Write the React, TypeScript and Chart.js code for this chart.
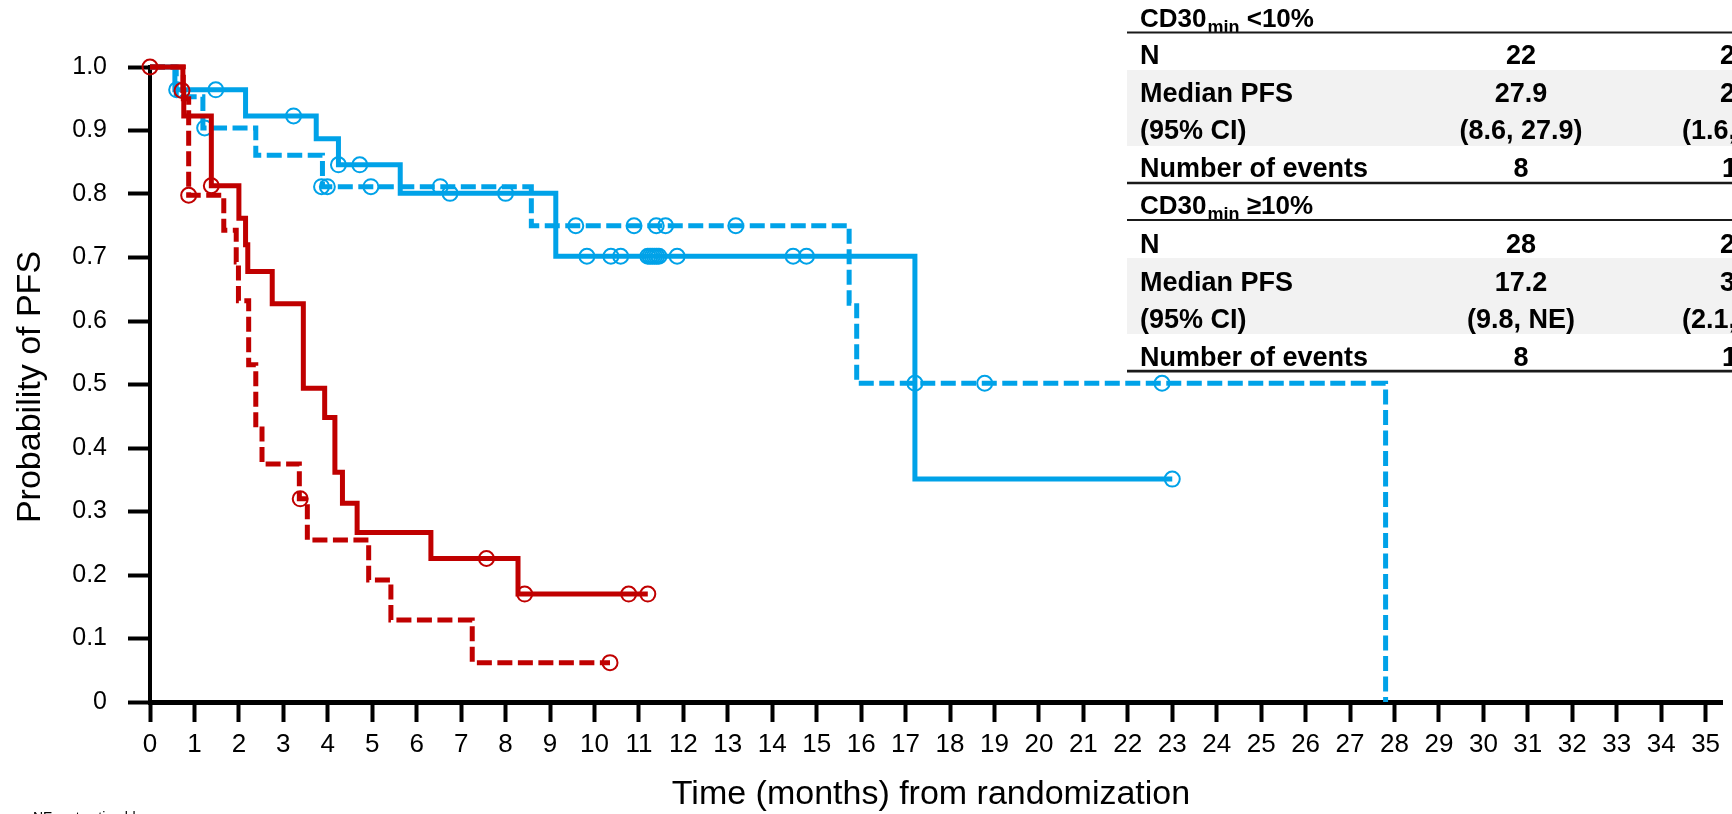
import React, { useEffect, useRef } from "react";
import { Chart, registerables } from "chart.js";

Chart.register(...registerables);

// ---------- axis ticks ----------
const xTicks = [0, 1, 2, 3, 4, 5, 6, 7, 8, 9, 10, 11, 12, 13, 14, 15, 16, 17, 18, 19, 20, 21, 22, 23, 24, 25, 26, 27, 28, 29, 30, 31, 32, 33, 34, 35];
const yTicks = [0, 0.1, 0.2, 0.3, 0.4, 0.5, 0.6, 0.7, 0.8, 0.9, 1.0];
const yTickLabels = ["0", "0.1", "0.2", "0.3", "0.4", "0.5", "0.6", "0.7", "0.8", "0.9", "1.0"];
const xAxisTitle = "Time (months) from randomization";
const yAxisTitle = "Probability of PFS";
const footnote = "NE, not estimable";

// ---------- blue arm, CD30min >=10% (solid) ----------
const blueSolidTimes = [0, 0.56, 2.15, 3.74, 4.24, 5.63, 9.13, 17.21, 23.0];
const blueSolidSurv = [1, 0.964, 0.923, 0.887, 0.846, 0.801, 0.702, 0.351, 0.351];
const blueSolidCensorTimes = [0.6, 1.48, 3.23, 4.24, 4.72, 6.75, 8.0, 9.83, 10.37, 10.59, 11.2, 11.25, 11.3, 11.35, 11.4, 11.45, 11.86, 14.47, 14.77, 23.0];
const blueSolidCensorSurv = [0.964, 0.964, 0.923, 0.846, 0.846, 0.801, 0.801, 0.702, 0.702, 0.702, 0.702, 0.702, 0.702, 0.702, 0.702, 0.702, 0.702, 0.702, 0.702, 0.351];

// ---------- blue arm, CD30min <10% (dashed) ----------
const blueDashedTimes = [0, 0.59, 1.19, 2.38, 3.88, 8.58, 15.73, 15.9, 27.8];
const blueDashedSurv = [1, 0.953, 0.904, 0.861, 0.8115, 0.75, 0.628, 0.502, 0];
const blueDashedCensorTimes = [1.23, 3.86, 3.99, 4.97, 6.53, 9.58, 10.89, 11.39, 11.6, 13.18, 17.21, 18.78, 22.77];
const blueDashedCensorSurv = [0.904, 0.8115, 0.8115, 0.8115, 0.8115, 0.75, 0.75, 0.75, 0.75, 0.75, 0.502, 0.502, 0.502];

// ---------- red arm, CD30min >=10% (solid) ----------
const redSolidTimes = [0, 0.74, 0.76, 1.38, 2.0, 2.15, 2.2, 2.75, 3.45, 3.93, 4.16, 4.33, 4.66, 6.32, 8.28, 11.2];
const redSolidSurv = [1, 0.963, 0.923, 0.813, 0.762, 0.72, 0.678, 0.627, 0.494, 0.448, 0.362, 0.313, 0.267, 0.226, 0.17, 0.17];
const redSolidCensorTimes = [0, 0.72, 1.38, 7.57, 8.43, 10.77, 11.2];
const redSolidCensorSurv = [1, 0.963, 0.813, 0.226, 0.17, 0.17, 0.17];

// ---------- red arm, CD30min <10% (dashed) ----------
const redDashedTimes = [0, 0.75, 0.87, 1.66, 1.94, 1.99, 2.22, 2.38, 2.52, 3.36, 3.54, 4.92, 5.42, 7.25, 10.35];
const redDashedSurv = [1, 0.95, 0.798, 0.743, 0.693, 0.632, 0.531, 0.43, 0.375, 0.32, 0.255, 0.192, 0.129, 0.062, 0.062];
const redDashedCensorTimes = [0.87, 3.38, 10.35];
const redDashedCensorSurv = [0.798, 0.32, 0.062];

// ---------- summary table ----------
const group1Header = ["CD30", "min", " <10%"];
const group2Header = ["CD30", "min", " \u226510%"];
const tableRowLabels = ["N", "Median PFS", "(95% CI)", "Number of events"];
const group1Col2 = ["22", "27.9", "(8.6, 27.9)", "8"];
const group1Col3 = ["2", "2", "(1.6,", "1"];
const group2Col2 = ["28", "17.2", "(9.8, NE)", "8"];
const group2Col3 = ["2", "3", "(2.1,", "1"];

const BLUE = "#00A2E8";
const RED = "#C00000";
const FAMILY = '"Liberation Sans", Arial, Helvetica, sans-serif';

const pts = (t: number[], s: number[]) => t.map((x, i) => ({ x, y: s[i] }));

function lineDs(label: string, t: number[], s: number[], color: string, dashed: boolean, order: number) {
  return {
    type: "line" as const,
    label,
    data: pts(t, s),
    borderColor: color,
    backgroundColor: color,
    borderWidth: 5,
    borderDash: dashed ? [15, 5.5] : [],
    borderCapStyle: "butt" as const,
    borderJoinStyle: "miter" as const,
    stepped: "before" as const,
    pointRadius: 0,
    fill: false,
    tension: 0,
    clip: false,
    order,
  };
}

function censorDs(label: string, t: number[], s: number[], color: string, order: number) {
  return {
    type: "scatter" as const,
    label,
    data: pts(t, s),
    showLine: false,
    pointStyle: "circle" as const,
    pointRadius: 7.5,
    pointBorderWidth: 2,
    pointBorderColor: color,
    borderColor: color,
    pointBackgroundColor: "rgba(0,0,0,0)",
    backgroundColor: "rgba(0,0,0,0)",
    clip: false,
    order,
  };
}

const decorPlugin = {
  id: "decor",
  afterDraw(chart: any) {
    const c: CanvasRenderingContext2D = chart.ctx;
    c.save();
    // axis titles
    c.fillStyle = "#000";
    c.font = `34px ${FAMILY}`;
    c.textAlign = "center";
    c.textBaseline = "alphabetic";
    c.fillText(xAxisTitle, 931, 804);
    c.save();
    c.translate(40, 387);
    c.rotate(-Math.PI / 2);
    c.fillText(yAxisTitle, 0, 0);
    c.restore();
    // footnote
    c.font = `14px ${FAMILY}`;
    c.textAlign = "left";
    c.fillText(footnote, 33, 822);

    // table
    const L = 1127;
    const R = 1732;
    c.fillStyle = "#fff";
    c.fillRect(1118, 0, R - 1118, 374);
    c.fillStyle = "#f2f2f2";
    c.fillRect(L, 70, R - L, 76);
    c.fillRect(L, 258, R - L, 76);

    const drawHeader = (h: string[], base: number) => {
      c.fillStyle = "#000";
      c.textAlign = "left";
      c.font = `bold 26px ${FAMILY}`;
      let x = 1140;
      c.fillText(h[0], x, base);
      x += c.measureText(h[0]).width + 1;
      c.font = `bold 18px ${FAMILY}`;
      c.fillText(h[1], x, base + 6);
      x += c.measureText(h[1]).width;
      c.font = `bold 26px ${FAMILY}`;
      c.fillText(h[2], x, base);
    };
    const drawRows = (col2: string[], col3: string[], bases: number[]) => {
      c.fillStyle = "#000";
      c.font = `bold 27px ${FAMILY}`;
      bases.forEach((b, i) => {
        c.textAlign = "left";
        c.fillText(tableRowLabels[i], 1140, b);
        c.textAlign = "center";
        c.fillText(col2[i], 1521, b);
        c.textAlign = "left";
        c.fillText(col3[i], i === 2 ? 1682 : i === 3 ? 1722 : 1720, b);
      });
    };
    drawHeader(group1Header, 26.5);
    drawRows(group1Col2, group1Col3, [64, 101.5, 138.5, 176.5]);
    drawHeader(group2Header, 213.5);
    drawRows(group2Col2, group2Col3, [253, 291, 328, 365.5]);

    c.strokeStyle = "#1a1a1a";
    const hline = (y: number, w: number) => {
      c.lineWidth = w;
      c.beginPath();
      c.moveTo(L, y);
      c.lineTo(R, y);
      c.stroke();
    };
    hline(32.5, 2.2);
    hline(183, 2.6);
    hline(220, 2.2);
    hline(371.2, 2.8);
    c.restore();
  },
};

export default function App() {
  const ref = useRef<HTMLCanvasElement>(null);
  useEffect(() => {
    document.body.style.margin = "0";
    const canvas = ref.current;
    if (!canvas) return;
    const chart = new Chart(canvas, {
      type: "scatter",
      data: {
        datasets: [
          censorDs("Red CD30min \u226510% censored", redSolidCensorTimes, redSolidCensorSurv, RED, 0),
          lineDs("Red CD30min \u226510%", redSolidTimes, redSolidSurv, RED, false, 1),
          censorDs("Red CD30min <10% censored", redDashedCensorTimes, redDashedCensorSurv, RED, 2),
          lineDs("Red CD30min <10%", redDashedTimes, redDashedSurv, RED, true, 3),
          censorDs("Blue CD30min \u226510% censored", blueSolidCensorTimes, blueSolidCensorSurv, BLUE, 4),
          lineDs("Blue CD30min \u226510%", blueSolidTimes, blueSolidSurv, BLUE, false, 5),
          censorDs("Blue CD30min <10% censored", blueDashedCensorTimes, blueDashedCensorSurv, BLUE, 6),
          lineDs("Blue CD30min <10%", blueDashedTimes, blueDashedSurv, BLUE, true, 7),
        ] as any,
      },
      options: {
        animation: false,
        responsive: false,
        maintainAspectRatio: false,
        devicePixelRatio: 1,
        layout: { padding: { top: 67, left: 0, right: 0, bottom: 0 } },
        plugins: {
          legend: { display: false },
          tooltip: { enabled: false },
          title: { display: false },
        },
        scales: {
          x: {
            type: "linear",
            min: 0,
            max: 35.38,
            afterBuildTicks: (s: any) => {
              s.ticks = xTicks.map((v) => ({ value: v }));
            },
            afterFit: (s: any) => {
              s.height = 112;
              s.paddingLeft = 0;
              s.paddingRight = 0;
            },
            ticks: {
              autoSkip: false,
              maxRotation: 0,
              minRotation: 0,
              color: "#000",
              padding: 7,
              font: { family: FAMILY, size: 26 },
              callback: (v: any) => String(v),
            },
            grid: { drawOnChartArea: false, drawTicks: true, tickLength: 20, tickWidth: 4, color: "#000" },
            border: { display: true, color: "#000", width: 5 },
          },
          y: {
            type: "linear",
            min: 0,
            max: 1,
            afterBuildTicks: (s: any) => {
              s.ticks = yTicks.map((v) => ({ value: v }));
            },
            afterFit: (s: any) => {
              s.width = 150;
              s.paddingTop = 0;
              s.paddingBottom = 0;
            },
            ticks: {
              autoSkip: false,
              color: "#000",
              padding: 21,
              font: { family: FAMILY, size: 25 },
              callback: (_v: any, i: number) => yTickLabels[i],
            },
            grid: { drawOnChartArea: false, drawTicks: true, tickLength: 22, tickWidth: 4, color: "#000" },
            border: { display: true, color: "#000", width: 4 },
          },
        },
      } as any,
      plugins: [decorPlugin],
    });
    return () => chart.destroy();
  }, []);
  return (
    <div style={{ width: 1732, height: 814, position: "relative", overflow: "hidden" }}>
      <canvas ref={ref} width={1732} height={814} style={{ display: "block", width: 1732, height: 814 }} />
    </div>
  );
}
